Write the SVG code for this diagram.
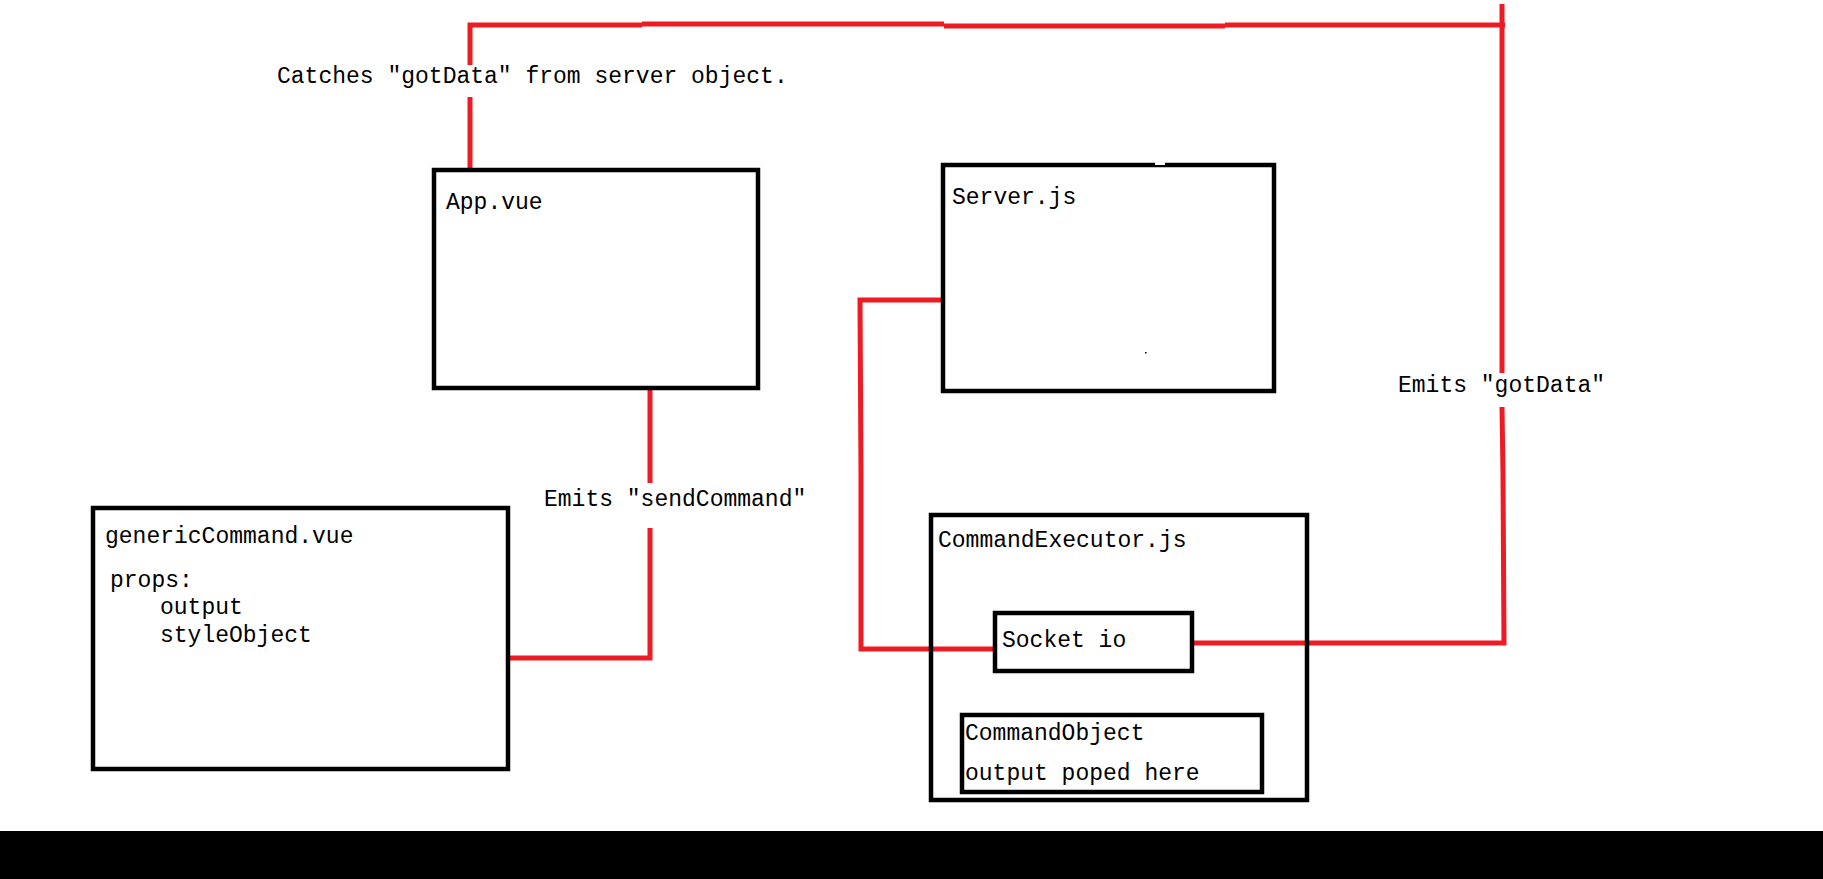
<svg xmlns="http://www.w3.org/2000/svg" width="1823" height="879" viewBox="0 0 1823 879">
<style>
.box{fill:none;stroke:#000;stroke-width:4.5}
.wire{fill:none;stroke:#ED1C24;stroke-width:5;stroke-linejoin:miter;stroke-linecap:butt}
text{font-family:"Liberation Mono","Courier New",monospace;font-size:23px;fill:#000}
</style>
<rect x="0" y="0" width="1823" height="879" fill="#fff"/>
<g id="connectors">
<polyline class="wire" points="470,65 470,25 642,25"/>
<polyline class="wire" points="642,24 944,24"/>
<polyline class="wire" points="944,26 1225,26"/>
<polyline class="wire" points="1225,25 1505,25"/>
<line class="wire" x1="470" y1="97" x2="470" y2="168"/>
<line class="wire" x1="1502" y1="4" x2="1502" y2="373"/>
<polyline class="wire" points="1502,407 1503,475 1504,643 1194,643"/>
<polyline class="wire" points="941,300 860,300 861,475 861,649 996,649"/>
<line class="wire" x1="650" y1="389" x2="650" y2="483"/>
<polyline class="wire" points="650,528 650,658 510,658"/>
</g>
<g id="app-vue">
<rect class="box" x="434" y="170" width="324" height="218"/>
<text x="446" y="209">App.vue</text>
</g>
<g id="server-js">
<rect class="box" x="943" y="165" width="331" height="226"/>
<rect x="1155" y="162" width="10" height="3" fill="#fff"/>
<rect x="1145" y="352" width="1.5" height="1.5" fill="#000"/>
<text x="952" y="204">Server.js</text>
</g>
<g id="generic-command">
<rect class="box" x="93" y="508" width="415" height="261"/>
<text x="105" y="543">genericCommand.vue</text>
<text x="110" y="587">props:</text>
<text x="160" y="614">output</text>
<text x="160" y="642">styleObject</text>
</g>
<g id="command-executor">
<rect class="box" x="931" y="515" width="376" height="285"/>
<text x="938" y="547">CommandExecutor.js</text>
</g>
<g id="socket-io">
<rect class="box" x="995" y="613" width="197" height="58"/>
<text x="1002" y="647">Socket io</text>
</g>
<g id="command-object">
<rect class="box" x="962" y="715" width="300" height="77"/>
<text x="965" y="740">CommandObject</text>
<text x="965" y="780">output poped here</text>
</g>
<g id="labels">
<text x="277" y="83">Catches "gotData" from server object.</text>
<text x="544" y="506">Emits "sendCommand"</text>
<text x="1398" y="392">Emits "gotData"</text>
</g>
<rect x="0" y="831" width="1823" height="48" fill="#000"/>
</svg>
